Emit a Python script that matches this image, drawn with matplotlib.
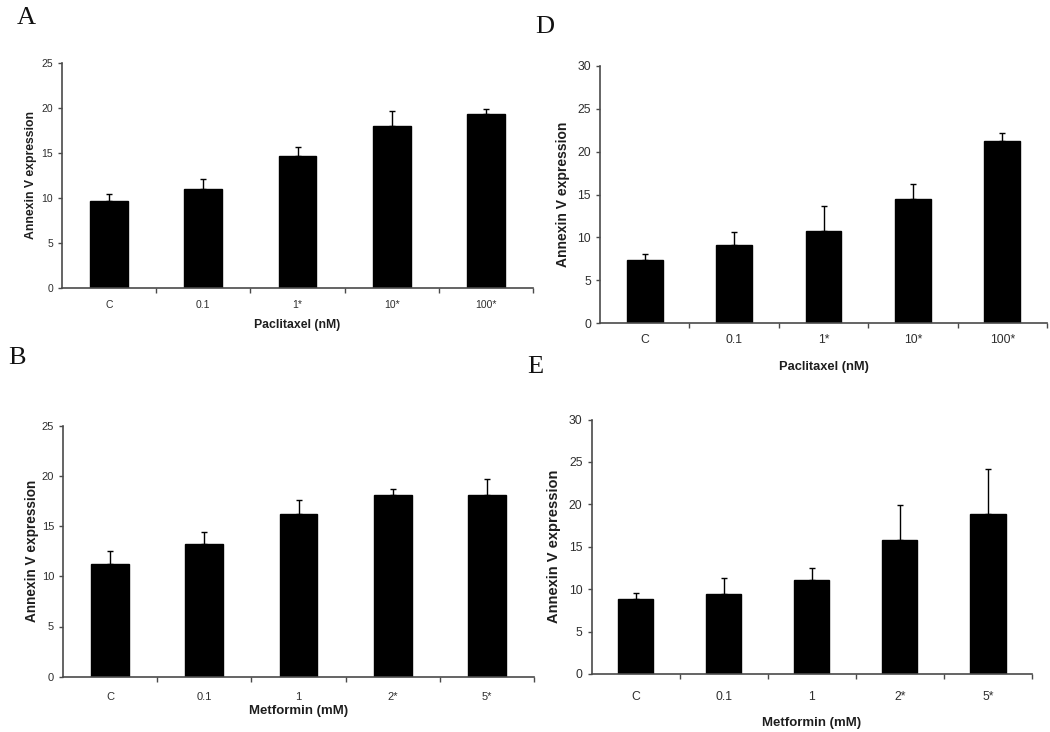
import matplotlib
matplotlib.use("Agg")
import matplotlib.pyplot as plt
import numpy as np

# ---------------- data ----------------
paclitaxel_cats = ['C', '0.1', '1*', '10*', '100*']
metformin_cats = ['C', '0.1', '1', '2*', '5*']

A_means = [9.6, 11.0, 14.65, 18.0, 19.3]
A_err = [0.85, 1.1, 1.0, 1.6, 0.6]

B_means = [11.2, 13.2, 16.2, 18.05, 18.05]
B_err = [1.35, 1.2, 1.4, 0.65, 1.6]

D_means = [7.38, 9.12, 10.78, 14.53, 21.24]
D_err = [0.63, 1.5, 2.84, 1.73, 0.95]

E_means = [8.8, 9.47, 11.05, 15.83, 18.83]
E_err = [0.71, 1.82, 1.42, 4.07, 5.29]

W, H = 1050, 732
fig = plt.figure(figsize=(W / 100, H / 100), dpi=100)
fig.patch.set_facecolor('white')

SANS = ['Liberation Sans', 'DejaVu Sans']
SERIF = ['Liberation Serif', 'DejaVu Serif']
GREY = '#2e2e2e'


def px_axes(left, right, top, bottom):
    return fig.add_axes([left / W, 1 - bottom / H, (right - left) / W, (bottom - top) / H])


def panel(rect_px, cats, means, errs, ymax, xlabel, ylabel,
          tick_fs, label_fs, ylab_fs, xtick_pad, xlab_off, ylab_x):
    left, right, top, bottom = rect_px
    ax = px_axes(left, right, top, bottom)
    x = np.arange(len(cats))
    ax.bar(x, means, width=0.4, color='black', edgecolor='black', zorder=2)
    ax.errorbar(x, means, yerr=[np.zeros(len(errs)), errs], fmt='none',
                ecolor='black', elinewidth=1.0, capsize=2.2, capthick=1.0, zorder=3)
    ax.set_xlim(-0.5, len(cats) - 0.5)
    ax.set_ylim(0, ymax)
    ax.set_yticks(np.arange(0, ymax + 1, 5))
    ax.set_xticks(x)
    ax.set_xticklabels(cats)
    ax.set_xticks(np.arange(0.5, len(cats), 1.0), minor=True)
    for s in ['top', 'right']:
        ax.spines[s].set_visible(False)
    for s in ['left', 'bottom']:
        ax.spines[s].set_color('#4a4a4a')
        ax.spines[s].set_linewidth(1.2)
    ax.tick_params(axis='x', which='major', length=0, pad=xtick_pad,
                   labelsize=tick_fs, labelcolor=GREY)
    ax.tick_params(axis='x', which='minor', length=3.5, width=1.0, color='#4a4a4a',
                   direction='out')
    ax.tick_params(axis='y', which='major', length=3, width=1.0, color='#4a4a4a',
                   direction='out', pad=3.5, labelsize=tick_fs, labelcolor=GREY)
    for lab in ax.get_xticklabels() + ax.get_yticklabels():
        lab.set_family(SANS)
    h = bottom - top
    wdt = right - left
    ax.set_xlabel(xlabel, fontsize=label_fs, fontweight='bold', family=SANS, color='#1e1e1e')
    ax.xaxis.set_label_coords(0.5, -xlab_off / h)
    ax.xaxis.label.set_va('center')
    ax.set_ylabel(ylabel, fontsize=ylab_fs, fontweight='bold', family=SANS, color='#1e1e1e')
    ax.yaxis.set_label_coords((ylab_x - left) / wdt, 0.5)
    ax.yaxis.label.set_va('center')
    ax.set_facecolor('white')
    return ax


# Panel A
panel((62, 533, 63, 287.5), paclitaxel_cats, A_means, A_err, 25,
      'Paclitaxel (nM)', 'Annexin V expression',
      tick_fs=7.5, label_fs=8.8, ylab_fs=8.8, xtick_pad=9, xlab_off=37.5, ylab_x=31)

# Panel B
panel((63, 534, 425.7, 676.7), metformin_cats, B_means, B_err, 25,
      'Metformin (mM)', 'Annexin V expression',
      tick_fs=8.0, label_fs=9.5, ylab_fs=9.8, xtick_pad=11, xlab_off=34, ylab_x=32)

# Panel D
panel((600, 1047, 66, 323), paclitaxel_cats, D_means, D_err, 30,
      'Paclitaxel (nM)', 'Annexin V expression',
      tick_fs=8.8, label_fs=9.3, ylab_fs=10.0, xtick_pad=8, xlab_off=44, ylab_x=563)

# Panel E
panel((591.5, 1032, 419.5, 674), metformin_cats, E_means, E_err, 30,
      'Metformin (mM)', 'Annexin V expression',
      tick_fs=8.8, label_fs=9.5, ylab_fs=10.5, xtick_pad=12, xlab_off=49, ylab_x=554)

# panel letters
for letter, (lx, ly) in {'A': (26, 18.5), 'B': (17, 358), 'D': (545, 27), 'E': (535, 367)}.items():
    fig.text(lx / W, 1 - ly / H, letter, family=SERIF, fontsize=19,
             ha='center', va='center', color='#111111')

fig.savefig('out.png', dpi=100, facecolor='white')
